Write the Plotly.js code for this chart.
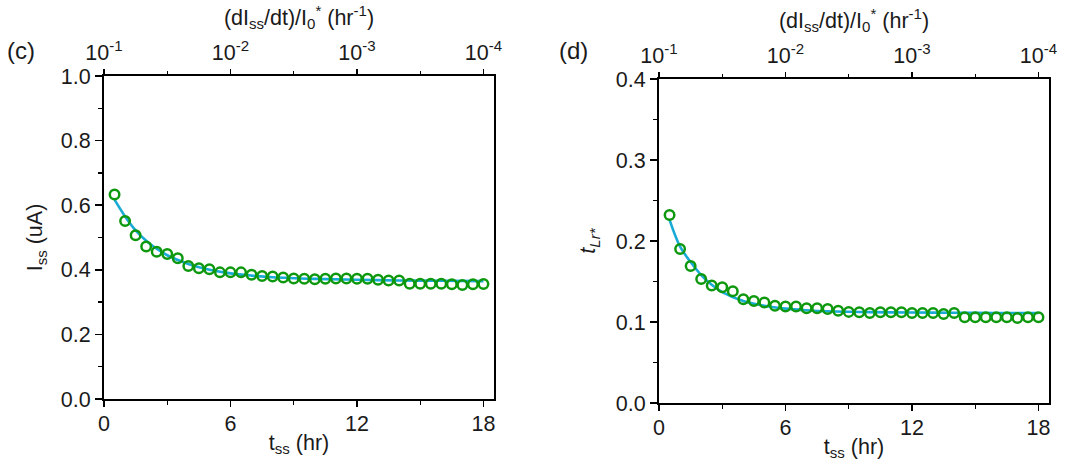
<!DOCTYPE html>
<html>
<head>
<meta charset="utf-8">
<script src="https://cdn.plot.ly/plotly-3.0.1.min.js"></script>
<style>html,body{margin:0;padding:0;background:#fff;}#plot{width:1080px;height:462px;}</style>
</head>
<body>
<div id="plot"></div>
<script>
// ---- data ----
const tss = [0.5,1,1.5,2,2.5,3,3.5,4,4.5,5,5.5,6,6.5,7,7.5,8,8.5,9,9.5,10,10.5,11,11.5,12,12.5,13,13.5,14,14.5,15,15.5,16,16.5,17,17.5,18];
const issData = [0.633,0.551,0.507,0.472,0.456,0.449,0.436,0.412,0.405,0.402,0.392,0.392,0.392,0.385,0.381,0.379,0.376,0.373,0.372,0.371,0.372,0.373,0.373,0.372,0.372,0.369,0.367,0.367,0.357,0.357,0.357,0.357,0.355,0.353,0.355,0.356];
const tlrData = [0.232,0.190,0.169,0.153,0.145,0.143,0.138,0.128,0.126,0.124,0.120,0.119,0.119,0.117,0.117,0.116,0.114,0.1125,0.112,0.111,0.112,0.112,0.112,0.111,0.111,0.111,0.110,0.111,0.106,0.106,0.106,0.106,0.106,0.105,0.106,0.106];
const fitT   = [0.5,1,1.5,2,2.5,3,4,5,6,7,8,10,12,14,16,18];
const issFit = [0.617,0.565,0.522,0.490,0.465,0.445,0.418,0.400,0.389,0.382,0.377,0.372,0.369,0.367,0.366,0.365];
const tlrFit = [0.226,0.193,0.174,0.158,0.146,0.137,0.126,0.120,0.1165,0.1145,0.1132,0.1122,0.1117,0.1114,0.1112,0.1111];
const bottomTicks = [0,6,12,18];
const topTickVals = [0,6,12,18];
const topTickText = ['10<sup>-1</sup>','10<sup>-2</sup>','10<sup>-3</sup>','10<sup>-4</sup>'];
const leftYTicks = [0,0.2,0.4,0.6,0.8,1.0];
const rightYTicks = [0,0.1,0.2,0.3,0.4];

const FONT = 'Arial, "Liberation Sans", sans-serif';
const TXT = '#1a1a1a';
const GREEN = '#0e980e';
const BLUE = '#19aad6';
const FS = 21.5;

const traces = [
  {x: fitT, y: issFit, xaxis:'x', yaxis:'y', mode:'lines', line:{color:BLUE, width:2.6, shape:'spline'}, hoverinfo:'skip'},
  {x: tss, y: issData, xaxis:'x', yaxis:'y', mode:'markers', marker:{symbol:'circle-open', size:9.5, color:GREEN, line:{width:2.5, color:GREEN}}},
  {x: fitT, y: tlrFit, xaxis:'x2', yaxis:'y2', mode:'lines', line:{color:BLUE, width:2.6, shape:'spline'}, hoverinfo:'skip'},
  {x: tss, y: tlrData, xaxis:'x2', yaxis:'y2', mode:'markers', marker:{symbol:'circle-open', size:9.5, color:GREEN, line:{width:2.5, color:GREEN}}},
  // invisible carriers for the top axes
  {x: tss, y: issData, xaxis:'x3', yaxis:'y', mode:'markers', opacity:0, hoverinfo:'skip'},
  {x: tss, y: tlrData, xaxis:'x4', yaxis:'y2', mode:'markers', opacity:0, hoverinfo:'skip'}
];

function bottomX(domain, anchor){
  return {domain: domain, anchor: anchor, range:[0,18.5], showgrid:false, zeroline:false,
    showline:true, linecolor:'#000', linewidth:2, mirror:false,
    tickmode:'array', tickvals: bottomTicks, ticks:'outside', ticklen:6, tickwidth:1.6, tickcolor:'#000',
    ticklabelstandoff:-2,
    minor:{tickmode:'array', tickvals:[3,9,15], ticks:'outside', ticklen:4, tickwidth:1.4, tickcolor:'#000'},
    tickfont:{family:FONT, size:FS, color:TXT},
    title:{text:'t<sub>ss</sub> (hr)', font:{family:FONT, size:FS, color:TXT}, standoff:0}};
}
function topX(over, anchor){
  return {overlaying: over, anchor: anchor, side:'top', range:[0,18.5], showgrid:false, zeroline:false,
    showline:true, linecolor:'#000', linewidth:2,
    tickmode:'array', tickvals: topTickVals, ticktext: topTickText, ticks:'outside', ticklen:5, tickwidth:1.6, tickcolor:'#000',
    minor:{tickmode:'array', tickvals:[3,9,15], ticks:'outside', ticklen:3, tickwidth:1.4, tickcolor:'#000'},
    tickfont:{family:FONT, size:FS, color:TXT},
    title:{text:'(dI<sub>ss</sub>/dt)/I<sub>0</sub><sup>*</sup> (hr<sup>-1</sup>)', font:{family:FONT, size:FS, color:TXT}, standoff:6}};
}
function leftY(domain, anchor, range, tv, minorTv, fmt, title, so){
  return {domain: domain, anchor: anchor, range: range, showgrid:false, zeroline:false,
    showline:true, linecolor:'#000', linewidth:2, mirror:true,
    tickmode:'array', tickvals: tv, tickformat: fmt, ticks:'outside', ticklen:7, tickwidth:1.6, tickcolor:'#000',
    minor:{tickmode:'array', tickvals: minorTv, ticks:'outside', ticklen:4, tickwidth:1.4, tickcolor:'#000'},
    tickfont:{family:FONT, size:FS, color:TXT},
    title:{text: title, font:{family:FONT, size:FS, color:TXT}, standoff:so}};
}

const layout = {
  width:1080, height:462, margin:{l:0, r:0, t:0, b:0},
  paper_bgcolor:'#fff', plot_bgcolor:'#fff', showlegend:false,
  xaxis: bottomX([0.0963,0.4574],'y'),
  xaxis2: bottomX([0.6102,0.9713],'y2'),
  xaxis3: topX('x','y'),
  xaxis4: topX('x2','y2'),
  yaxis: leftY([0.1364,0.8355],'x',[0,1],leftYTicks,[0.1,0.3,0.5,0.7,0.9],'.1f','I<sub>ss</sub> (uA)',12),
  yaxis2: leftY([0.1277,0.829],'x2',[0,0.4],rightYTicks,[0.05,0.15,0.25,0.35],'.1f','<i>t<sub>Lr*</sub></i>',14),
  annotations:[
    {text:'(c)', xref:'paper', yref:'paper', x:21/1080, y:1-50/462, xanchor:'center', yanchor:'middle', showarrow:false, font:{family:FONT, size:24, color:TXT}},
    {text:'(d)', xref:'paper', yref:'paper', x:573/1080, y:1-50/462, xanchor:'center', yanchor:'middle', showarrow:false, font:{family:FONT, size:24, color:TXT}}
  ]
};

Plotly.newPlot('plot', traces, layout, {staticPlot:true, displayModeBar:false});
</script>
</body>
</html>
